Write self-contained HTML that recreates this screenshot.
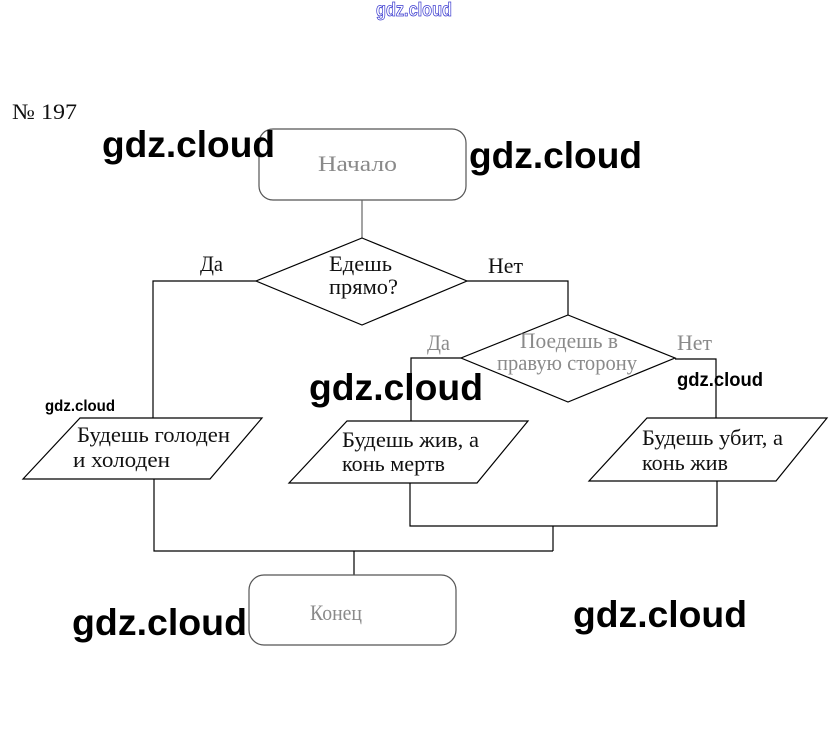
<!DOCTYPE html>
<html>
<head>
<meta charset="utf-8">
<style>
  html,body{margin:0;padding:0;background:#fff;}
  body{width:829px;height:749px;overflow:hidden;}
  svg{display:block;}
  .t{font-family:"Liberation Serif","Noto Serif CJK SC",serif;font-size:22px;fill:#111;}
  .g{font-family:"Liberation Serif","Noto Serif CJK SC",serif;font-size:22px;fill:#8a8a8a;}
  .w{font-family:"Liberation Sans",sans-serif;font-weight:bold;fill:#000;}
</style>
</head>
<body>
<svg width="829" height="749" viewBox="0 0 829 749" xmlns="http://www.w3.org/2000/svg">
  <rect x="0" y="0" width="829" height="749" fill="#fff"/>

  <!-- top outlined watermark -->
  <text x="376" y="16" font-family="Liberation Sans, sans-serif" font-weight="bold" font-size="19" fill="#fff" stroke="#3c3cd0" stroke-width="0.8" textLength="76" lengthAdjust="spacingAndGlyphs">gdz.cloud</text>

  <!-- № 197 -->
  <text class="t" x="12" y="119" textLength="65" lengthAdjust="spacingAndGlyphs">№ 197</text>

  <g fill="none" stroke="#000" stroke-width="1.2">
    <!-- start box -->
    <rect x="259" y="129" width="207" height="71" rx="14" ry="14" stroke="#555"/>
    <line x1="362" y1="200" x2="362" y2="238" stroke="#666"/>
    <!-- diamond 1 -->
    <polygon points="362,238 467,281 362,325 256,281"/>
    <polyline points="256,281 153,281 153,418"/>
    <polyline points="467,281 568,281 568,315"/>
    <!-- diamond 2 -->
    <polygon points="568,315 675,358 568,402 461,358"/>
    <polyline points="461,358 411,358 411,421"/>
    <polyline points="675,359 716,359 716,418"/>
    <!-- parallelograms -->
    <polygon points="80,418 262,418 210,479 23,479"/>
    <polygon points="347,421 528,421 477,483 289,483"/>
    <polygon points="647,418 827,418 776,481 589,481"/>
    <!-- joins -->
    <polyline points="154,479 154,551 553,551"/>
    <polyline points="410,483 410,526 717,526 717,481"/>
    <line x1="553" y1="526" x2="553" y2="551"/>
    <line x1="354" y1="551" x2="354" y2="575"/>
    <!-- end box -->
    <rect x="249" y="575" width="207" height="70" rx="15" ry="15" stroke="#555"/>
  </g>

  <!-- diagram text -->
  <text class="g" x="318" y="171" textLength="79" lengthAdjust="spacingAndGlyphs">Начало</text>
  <text class="t" x="200" y="271" textLength="23" lengthAdjust="spacingAndGlyphs">Да</text>
  <text class="t" x="488" y="273" textLength="35" lengthAdjust="spacingAndGlyphs">Нет</text>
  <text class="t" x="329" y="271" textLength="63" lengthAdjust="spacingAndGlyphs">Едешь</text>
  <text class="t" x="329" y="294" textLength="69" lengthAdjust="spacingAndGlyphs">прямо?</text>

  <text class="g" x="427" y="350" textLength="23" lengthAdjust="spacingAndGlyphs">Да</text>
  <text class="g" x="677" y="350" textLength="35" lengthAdjust="spacingAndGlyphs">Нет</text>
  <text class="g" x="520" y="348" textLength="98" lengthAdjust="spacingAndGlyphs">Поедешь в</text>
  <text class="g" x="497" y="370" textLength="140" lengthAdjust="spacingAndGlyphs">правую сторону</text>

  <text class="t" x="77" y="442" textLength="153" lengthAdjust="spacingAndGlyphs">Будешь голоден</text>
  <text class="t" x="73" y="467" textLength="97" lengthAdjust="spacingAndGlyphs">и холоден</text>
  <text class="t" x="342" y="447" textLength="137" lengthAdjust="spacingAndGlyphs">Будешь жив, а</text>
  <text class="t" x="342" y="471" textLength="103" lengthAdjust="spacingAndGlyphs">конь мертв</text>
  <text class="t" x="642" y="445" textLength="141" lengthAdjust="spacingAndGlyphs">Будешь убит, а</text>
  <text class="t" x="642" y="470" textLength="86" lengthAdjust="spacingAndGlyphs">конь жив</text>

  <text class="g" x="310" y="620" textLength="52" lengthAdjust="spacingAndGlyphs">Конец</text>

  <!-- watermarks -->
  <text class="w" x="102" y="157" font-size="37" textLength="173" lengthAdjust="spacingAndGlyphs">gdz.cloud</text>
  <text class="w" x="469" y="168" font-size="37" textLength="173" lengthAdjust="spacingAndGlyphs">gdz.cloud</text>
  <text class="w" x="309" y="400" font-size="37" textLength="174" lengthAdjust="spacingAndGlyphs">gdz.cloud</text>
  <text class="w" x="677" y="386" font-size="19" textLength="86" lengthAdjust="spacingAndGlyphs">gdz.cloud</text>
  <text class="w" x="45" y="411" font-size="16" textLength="70" lengthAdjust="spacingAndGlyphs">gdz.cloud</text>
  <text class="w" x="72" y="635" font-size="37" textLength="175" lengthAdjust="spacingAndGlyphs">gdz.cloud</text>
  <text class="w" x="573" y="627" font-size="37" textLength="174" lengthAdjust="spacingAndGlyphs">gdz.cloud</text>
</svg>
</body>
</html>
